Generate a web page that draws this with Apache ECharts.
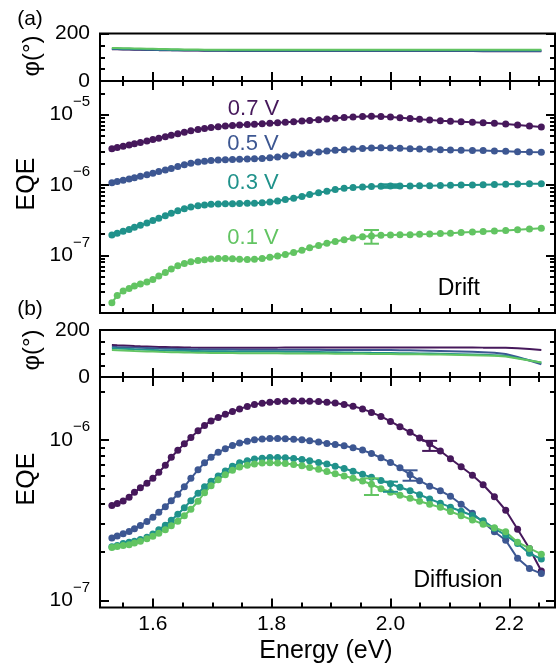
<!DOCTYPE html>
<html><head><meta charset="utf-8">
<script src="https://cdn.jsdelivr.net/npm/echarts@6/dist/echarts.min.js"></script>
<style>html,body{margin:0;padding:0;background:#fff}#c{width:558px;height:669px}</style>
</head><body><div id="c"></div>
<script>
// Photon energy (eV) of each measured point
const energy = [1.531,1.540,1.550,1.560,1.569,1.579,1.590,1.600,1.610,1.621,1.631,1.642,1.653,1.664,1.676,1.687,1.698,1.710,1.722,1.734,1.746,1.759,1.771,1.784,1.797,1.810,1.823,1.837,1.851,1.864,1.879,1.893,1.907,1.922,1.937,1.953,1.968,1.984,2.000,2.016,2.033,2.049,2.066,2.084,2.101,2.119,2.138,2.156,2.175,2.194,2.214,2.234,2.254];
const voltages = ['0.7 V','0.5 V','0.3 V','0.1 V'];
const colors = ['#46185b','#3d5792','#20928b','#62c462'];

// (a) Drift : log10(EQE)
const driftLog07 = [-5.484,-5.467,-5.450,-5.432,-5.413,-5.395,-5.375,-5.355,-5.337,-5.315,-5.294,-5.273,-5.251,-5.230,-5.212,-5.197,-5.185,-5.173,-5.163,-5.155,-5.148,-5.142,-5.136,-5.129,-5.122,-5.115,-5.108,-5.101,-5.092,-5.084,-5.074,-5.063,-5.053,-5.043,-5.034,-5.027,-5.024,-5.027,-5.034,-5.045,-5.057,-5.067,-5.077,-5.087,-5.095,-5.102,-5.109,-5.116,-5.124,-5.134,-5.148,-5.162,-5.176];
const driftLog05 = [-5.967,-5.950,-5.933,-5.915,-5.896,-5.876,-5.855,-5.832,-5.810,-5.787,-5.764,-5.739,-5.713,-5.690,-5.673,-5.662,-5.653,-5.646,-5.642,-5.638,-5.635,-5.632,-5.628,-5.622,-5.612,-5.601,-5.588,-5.574,-5.560,-5.545,-5.531,-5.517,-5.507,-5.499,-5.489,-5.480,-5.474,-5.472,-5.473,-5.479,-5.484,-5.490,-5.494,-5.499,-5.503,-5.506,-5.509,-5.511,-5.516,-5.521,-5.528,-5.533,-5.536];
const driftLog03 = [-6.710,-6.685,-6.658,-6.631,-6.601,-6.572,-6.540,-6.506,-6.472,-6.436,-6.401,-6.366,-6.337,-6.314,-6.295,-6.283,-6.274,-6.270,-6.267,-6.266,-6.264,-6.261,-6.259,-6.251,-6.240,-6.226,-6.207,-6.188,-6.163,-6.136,-6.111,-6.088,-6.065,-6.048,-6.036,-6.027,-6.021,-6.017,-6.014,-6.014,-6.013,-6.011,-6.009,-6.006,-6.004,-6.001,-6.000,-5.997,-5.994,-5.991,-5.987,-5.984,-5.982];
const driftLog01 = [-7.672,-7.570,-7.506,-7.470,-7.435,-7.406,-7.378,-7.342,-7.293,-7.243,-7.193,-7.148,-7.115,-7.091,-7.072,-7.060,-7.051,-7.045,-7.044,-7.047,-7.054,-7.058,-7.054,-7.043,-7.027,-7.009,-6.986,-6.960,-6.928,-6.892,-6.859,-6.827,-6.803,-6.778,-6.753,-6.736,-6.724,-6.714,-6.710,-6.707,-6.705,-6.700,-6.696,-6.690,-6.685,-6.676,-6.668,-6.661,-6.653,-6.645,-6.635,-6.625,-6.615];
// (a) Drift : phase (deg)
const driftPh07 = [134,134,133,133,132,132,131,131,130,130,129,129,128,128,128,127,127,127,127,126,126,126,126,126,126,126,126,126,126,126,126,126,126,126,126,126,126,126,126,126,126,126,126,126,126,126,126,125,125,125,125,125,125];
const driftPh05 = [135,135,134,134,133,133,132,132,131,131,130,130,129,129,129,128,128,128,128,127,127,127,127,127,127,127,127,127,127,127,127,127,127,127,127,127,127,127,127,127,127,127,127,127,127,127,127,126,126,126,126,126,126];
const driftPh03 = [137,137,136,136,135,135,134,134,133,133,132,132,131,131,131,130,130,130,130,130,130,130,129,129,129,129,129,129,129,129,129,129,129,129,129,129,129,129,129,129,129,129,129,129,129,129,129,129,129,129,129,129,129];
const driftPh01 = [139,139,138,138,137,137,136,136,135,135,134,134,133,133,133,132,132,132,132,132,132,132,132,132,132,132,132,132,132,132,132,132,132,132,132,132,132,132,132,132,132,132,132,132,132,132,132,132,132,132,132,132,132];

// (b) Diffusion : log10(EQE)
const diffLog07 = [-6.407,-6.395,-6.379,-6.356,-6.325,-6.297,-6.269,-6.238,-6.200,-6.157,-6.107,-6.063,-6.023,-5.983,-5.942,-5.908,-5.880,-5.858,-5.839,-5.821,-5.805,-5.790,-5.778,-5.769,-5.763,-5.759,-5.757,-5.755,-5.755,-5.757,-5.759,-5.763,-5.768,-5.777,-5.788,-5.805,-5.827,-5.852,-5.883,-5.916,-5.951,-5.986,-6.023,-6.067,-6.116,-6.166,-6.219,-6.278,-6.353,-6.437,-6.555,-6.676,-6.816];
const diffLog05 = [-6.610,-6.597,-6.583,-6.569,-6.552,-6.532,-6.508,-6.480,-6.449,-6.415,-6.378,-6.337,-6.291,-6.238,-6.185,-6.141,-6.106,-6.076,-6.053,-6.033,-6.018,-6.006,-5.998,-5.993,-5.990,-5.989,-5.991,-5.994,-5.998,-6.004,-6.012,-6.020,-6.027,-6.035,-6.047,-6.062,-6.083,-6.110,-6.139,-6.172,-6.215,-6.253,-6.287,-6.315,-6.350,-6.400,-6.456,-6.512,-6.571,-6.624,-6.737,-6.801,-6.832];
const diffLog03 = [-6.664,-6.657,-6.645,-6.636,-6.630,-6.620,-6.605,-6.585,-6.558,-6.530,-6.499,-6.462,-6.421,-6.378,-6.331,-6.291,-6.256,-6.223,-6.192,-6.163,-6.141,-6.128,-6.118,-6.112,-6.108,-6.108,-6.110,-6.114,-6.120,-6.129,-6.139,-6.149,-6.162,-6.177,-6.194,-6.213,-6.232,-6.251,-6.272,-6.294,-6.315,-6.340,-6.367,-6.393,-6.418,-6.443,-6.470,-6.502,-6.551,-6.592,-6.645,-6.706,-6.741];
const diffLog01 = [-6.669,-6.663,-6.657,-6.652,-6.642,-6.630,-6.615,-6.599,-6.580,-6.558,-6.533,-6.505,-6.471,-6.431,-6.381,-6.328,-6.284,-6.247,-6.215,-6.188,-6.168,-6.156,-6.148,-6.143,-6.141,-6.142,-6.145,-6.151,-6.160,-6.171,-6.182,-6.196,-6.210,-6.224,-6.238,-6.255,-6.275,-6.303,-6.325,-6.344,-6.362,-6.381,-6.400,-6.419,-6.445,-6.471,-6.498,-6.524,-6.546,-6.571,-6.636,-6.675,-6.711];
// (b) Diffusion : phase (deg)
const diffPh07 = [136,135,134,133,132,131,130,129,128,127.5,127,126.5,126,125.5,125,125,125,125,125,125,125,125,125,125,125,125,125.5,125.5,125.5,125.5,126,126,126,126,126,126,126,126,126,126,126,126,126,126,126,125.5,125.5,125,125,124,122,119,115];
const diffPh05 = [129,128,127,126,125,124,123,122,121,120.5,120,119.5,119,118.5,118,117.5,117,117,116.5,116.5,116,116,116,115.5,115.5,115.5,115.5,115.5,115.5,115.5,115.5,115,115,115,115,115,115,115,114.5,114,113.5,113,112,111,110,108.5,107,105,103,98,85,70,54];
const diffPh03 = [122,121,120,119,118,117,116,115,114,113,112.5,112,111.5,111,110.5,110,110,109.5,109.5,109,109,108.5,108.5,108.5,108,108,107.5,107,107,106.5,106,105.5,105,104.5,104,103.5,103,102.5,102,101.5,101,100.5,100,99,98,97,96,94.5,93,90,81,71,61];
const diffPh01 = [115,114,113,112,111,110,109,108,107,106,105.5,105,104.5,104,103.5,103,102.5,102.5,102,102,101.5,101.5,101,101,101,101,100.5,100.5,100,100,99.5,99.5,99,99,98.5,98.5,98,98,97.5,97,97,96.5,96,95.5,95,94,93,92,90,87,79,70,62];

// error bars: [energy, log10 low, log10 high, voltage index]
const driftErr = [[1.968,-6.834,-6.639,3],[2.000,-6.040,-5.990,2]];
const diffErr = [[2.066,-6.067,-6.004,0],[2.033,-6.253,-6.188,1],[2.000,-6.322,-6.259,2],[1.968,-6.342,-6.238,3]];

// tick labels
const xMajorTicks = [1.6,1.8,2.0,2.2];
const xMinorTicks = [1.55,1.65,1.7,1.75,1.85,1.9,1.95,2.05,2.1,2.15,2.25];
const phaseLabels = [0,200];
const phaseMinor = [50,100,150];
const driftDecades = [-7,-6,-5];
const diffDecades = [-7,-6];

const FONT = '"Liberation Sans", Arial, Helvetica, sans-serif';
const xMin = 1.511, xMax = 2.277;
function minorLog(lo, hi){
  const out=[];
  for(let n=-9;n<=-3;n++) for(let k=2;k<=9;k++){const v=n+Math.log10(k); if(v>lo+1e-6 && v<hi-1e-6) out.push(v);}
  return out;
}
const gridDefs = [
  {top:33.5,height:47.5,min:0,max:200,type:'phase'},
  {top:81,height:232,min:-7.818,max:-4.523,type:'log',dec:driftDecades},
  {top:330,height:47,min:0,max:200,type:'phase'},
  {top:377,height:230.5,min:-7.0436,max:-5.606,type:'log',dec:diffDecades}
];
const tickStyle = {color:'#000',width:2};
const grid=[], xAxis=[], yAxis=[];
gridDefs.forEach((g,i)=>{
  grid.push({left:100,right:3,top:g.top,height:g.height,show:true,borderColor:'#000',borderWidth:2,backgroundColor:'transparent',containLabel:false,outerBoundsMode:'none'});
  ['bottom','top'].forEach(pos=>{
    [['major',9,xMajorTicks],['minor',5,xMinorTicks]].forEach(([kind,len,vals])=>{
      xAxis.push({type:'value',gridIndex:i,min:xMin,max:xMax,position:pos,
        axisLine:{show:false},splitLine:{show:false},
        axisTick:{show:true,inside:true,length:len,customValues:vals,lineStyle:tickStyle},
        axisLabel:{show:(i===3&&pos==='bottom'&&kind==='major'),customValues:xMajorTicks,margin:6,
          formatter:v=>v.toFixed(1),color:'#000',fontSize:21,fontFamily:FONT}});
    });
  });
  let majVals, minVals, labelFmt, rich;
  if(g.type==='phase'){majVals=phaseLabels;minVals=phaseMinor;labelFmt=v=>String(Math.round(v));}
  else {majVals=g.dec;minVals=minorLog(g.min,g.max);
    labelFmt=v=>'{b|10}{s|\u2212'+Math.abs(Math.round(v))+'}';
    rich={b:{fontSize:21,fontFamily:FONT,color:'#000'},s:{fontSize:15,fontFamily:FONT,color:'#000',padding:[0,0,26,0]}};}
  ['left','right'].forEach(pos=>{
    [['major',9,majVals],['minor',5,minVals]].forEach(([kind,len,vals])=>{
      yAxis.push({type:'value',gridIndex:i,min:g.min,max:g.max,position:pos,
        axisLine:{show:false},splitLine:{show:false},
        axisTick:{show:true,inside:true,length:len,customValues:vals,lineStyle:tickStyle},
        axisLabel:{show:(pos==='left'&&kind==='major'),customValues:majVals,margin:10,
          formatter:labelFmt,rich:rich,color:'#000',fontSize:21,fontFamily:FONT}});
    });
  });
});

const series=[];
function addLine(gi, arr, ci, withMarkers){
  series.push({type:'line',xAxisIndex:gi*4,yAxisIndex:gi*4,
    data:energy.map((e,k)=>[e,arr[k]]),
    symbol:withMarkers?'circle':'none',symbolSize:7,showSymbol:withMarkers,
    lineStyle:{width:2,color:colors[ci]},itemStyle:{color:colors[ci]},
    silent:true,animation:false,z:3});
}
[driftPh07,driftPh05,driftPh03,driftPh01].forEach((a,ci)=>addLine(0,a,ci,false));
[driftLog07,driftLog05,driftLog03,driftLog01].forEach((a,ci)=>addLine(1,a,ci,true));
[diffPh07,diffPh05,diffPh03,diffPh01].forEach((a,ci)=>addLine(2,a,ci,false));
[diffLog07,diffLog05,diffLog03,diffLog01].forEach((a,ci)=>addLine(3,a,ci,true));
function addErr(gi, errs){
  series.push({type:'custom',xAxisIndex:gi*4,yAxisIndex:gi*4,data:errs,silent:true,animation:false,z:4,
    renderItem:(params,api)=>{
      const x=api.value(0), p1=api.coord([x,api.value(1)]), p2=api.coord([x,api.value(2)]);
      const col=colors[api.value(3)], w=7.5, st={stroke:col,lineWidth:2};
      return {type:'group',children:[
        {type:'line',shape:{x1:p1[0],y1:p1[1],x2:p2[0],y2:p2[1]},style:st},
        {type:'line',shape:{x1:p1[0]-w,y1:p1[1],x2:p1[0]+w,y2:p1[1]},style:st},
        {type:'line',shape:{x1:p2[0]-w,y1:p2[1],x2:p2[0]+w,y2:p2[1]},style:st}]};
    }});
}
addErr(1,driftErr); addErr(3,diffErr);

function txt(text,x,y,size,color,rot){
  return {type:'text',x:x,y:y,rotation:rot||0,silent:true,z:10,
    style:{text:text,fill:color||'#000',font:size+'px '+FONT,align:'center',verticalAlign:'middle',textAlign:'center',textVerticalAlign:'middle'}};
}
const graphic=[
  txt('(a)',30,19,21),txt('(b)',30,309,21),
  txt('\u03c6(\u00b0)',32,56,24,'#000',Math.PI/2),txt('\u03c6(\u00b0)',32,350,24,'#000',Math.PI/2),
  txt('EQE',27,184,25,'#000',Math.PI/2),txt('EQE',27,479,25,'#000',Math.PI/2),
  txt(voltages[0],253.5,108.5,22,colors[0]),txt(voltages[1],253,143.5,22,colors[1]),
  txt(voltages[2],253,182.5,22,colors[2]),txt(voltages[3],253,237.5,22,colors[3]),
  txt('Drift',458.8,288.5,23),txt('Diffusion',458,581,23),
  txt('Energy (eV)',326,651.5,25)
];
const chart=echarts.init(document.getElementById('c'),null,{renderer:'canvas'});
chart.setOption({animation:false,backgroundColor:'#fff',grid,xAxis,yAxis,series,graphic});
</script></body></html>
